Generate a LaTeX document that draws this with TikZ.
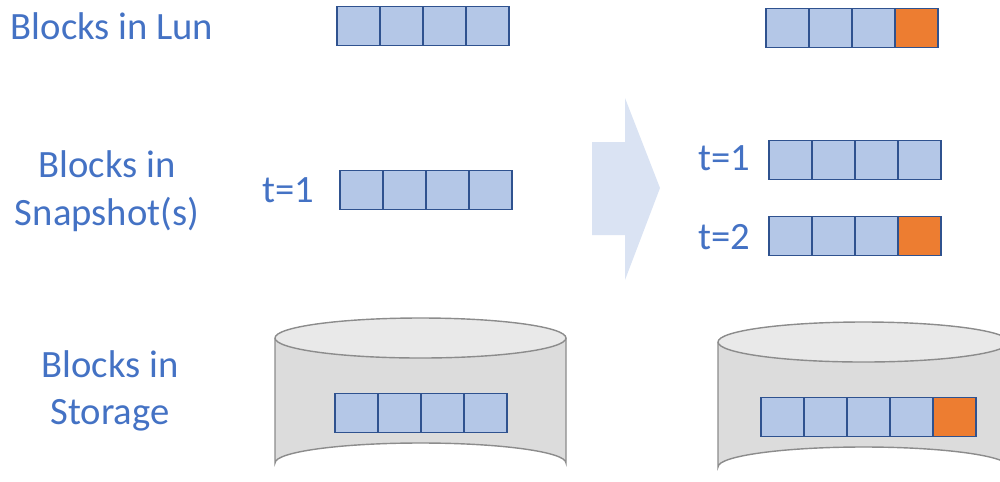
\documentclass[tikz,border=0pt]{standalone}
\usepackage{fontspec}
\setmainfont{Carlito}
\usepackage{tikz}
\usetikzlibrary{positioning}

\definecolor{textblue}{HTML}{4472C4}
\definecolor{blockline}{HTML}{2F528F}
\definecolor{blockfill}{HTML}{B4C7E7}
\definecolor{neworange}{HTML}{ED7D31}
\definecolor{arrowfill}{HTML}{DAE3F3}
\definecolor{diskside}{HTML}{DCDCDC}
\definecolor{disktop}{HTML}{E9E9E9}
\definecolor{diskline}{HTML}{8C8C8C}

\begin{document}
\begin{tikzpicture}[
    x=0.02cm, y=-0.02cm,
    blocknode/.style={draw=blockline, fill=blockfill, line width=0.9pt, minimum width=0.86cm, minimum height=0.78cm, inner sep=0pt, outer sep=0pt},
    newnode/.style={blocknode, fill=neworange},
    labelnode/.style={text=textblue, font=\fontsize{22}{27}\selectfont, align=center},
    disk/.style={draw=diskline, line width=0.8pt},
    node distance=0pt
    ]
    \useasboundingbox (0,0) rectangle (1000,481);

    %Arrow
    \fill[arrowfill] (592,142) -- (625,142) -- (625,98) -- (660,188) -- (625,280) -- (625,235) -- (592,235) -- cycle;

    %Disks
    \draw[disk, fill=diskside] (275,338) -- (275,463) arc[start angle=180, end angle=360, x radius=145.5, y radius=20] -- (566,338);
    \draw[disk, fill=disktop] (420.5,338) ellipse[x radius=145.5, y radius=20];
    \draw[disk, fill=diskside] (718,342) -- (718,467) arc[start angle=180, end angle=360, x radius=145.5, y radius=20] -- (1009,342);
    \draw[disk, fill=disktop] (863.5,342) ellipse[x radius=145.5, y radius=20];

    %Labels
    \node[labelnode] (lunlabel) at (112,26) {Blocks in Lun};
    \node[labelnode] (snaplabel) at (107,191) {Blocks in\\Snapshot(s)};
    \node[labelnode] (storelabel) at (110,391) {Blocks in\\Storage};
    \node[labelnode] (t1left) at (288,190) {t=1};
    \node[labelnode] (t1right) at (724,158) {t=1};
    \node[labelnode] (t2right) at (724,237) {t=2};

    %Lun before
    \node[blocknode, anchor=west] (1A) at (337,26) {};
    \node[blocknode] (1B) [right=of 1A] {};
    \node[blocknode] (1C) [right=of 1B] {};
    \node[blocknode] (1D) [right=of 1C] {};

    %Lun after
    \node[blocknode, anchor=west] (2A) at (766,28) {};
    \node[blocknode] (2B) [right=of 2A] {};
    \node[blocknode] (2C) [right=of 2B] {};
    \node[newnode] (2D) [right=of 2C] {};

    %Snapshot before
    \node[blocknode, anchor=west] (3A) at (340,190) {};
    \node[blocknode] (3B) [right=of 3A] {};
    \node[blocknode] (3C) [right=of 3B] {};
    \node[blocknode] (3D) [right=of 3C] {};

    %Snapshots after
    \node[blocknode, anchor=west] (4A) at (769,160) {};
    \node[blocknode] (4B) [right=of 4A] {};
    \node[blocknode] (4C) [right=of 4B] {};
    \node[blocknode] (4D) [right=of 4C] {};

    \node[blocknode, anchor=west] (5A) at (769,236) {};
    \node[blocknode] (5B) [right=of 5A] {};
    \node[blocknode] (5C) [right=of 5B] {};
    \node[newnode] (5D) [right=of 5C] {};

    %Storage before
    \node[blocknode, anchor=west] (6A) at (335,413) {};
    \node[blocknode] (6B) [right=of 6A] {};
    \node[blocknode] (6C) [right=of 6B] {};
    \node[blocknode] (6D) [right=of 6C] {};

    %Storage after
    \node[blocknode, anchor=west] (7A) at (761,417) {};
    \node[blocknode] (7B) [right=of 7A] {};
    \node[blocknode] (7C) [right=of 7B] {};
    \node[blocknode] (7D) [right=of 7C] {};
    \node[newnode] (7E) [right=of 7D] {};

\end{tikzpicture}
\end{document}
